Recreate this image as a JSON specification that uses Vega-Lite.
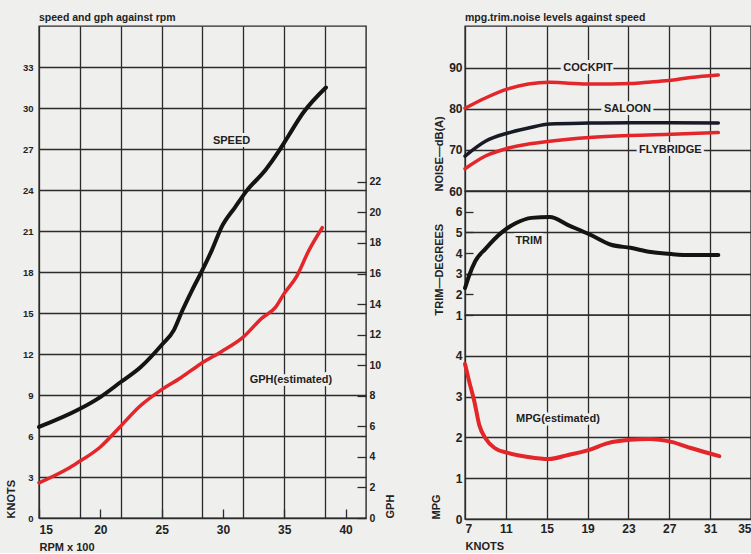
{
  "$schema": "https://vega.github.io/schema/vega-lite/v6.json",
  "background": "#efefed",
  "padding": {"left": 4, "top": 11, "right": 0, "bottom": 0},
  "config": {
    "view": {"stroke": "#2b2b2b", "strokeWidth": 1.4},
    "font": "Liberation Sans",
    "axis": {
      "domain": false,
      "gridColor": "#2b2b2b",
      "gridWidth": 1.3,
      "gridOpacity": 1,
      "tickColor": "#2b2b2b",
      "tickWidth": 1.3,
      "labelColor": "#222222",
      "titleColor": "#222222",
      "labelFont": "Liberation Sans",
      "titleFont": "Liberation Sans",
      "labelFontWeight": "bold",
      "titleFontWeight": "bold",
      "labelOverlap": false,
      "tickCount": 30
    },
    "title": {
      "font": "Liberation Sans",
      "fontWeight": "bold",
      "fontSize": 10.5,
      "color": "#222222",
      "anchor": "start",
      "frame": "group",
      "offset": 3
    }
  },
  "datasets": {
    "speed": [
      {"rpm": 15, "knots": 6.66},
      {"rpm": 18.3, "knots": 7.97},
      {"rpm": 20, "knots": 8.85},
      {"rpm": 21.67, "knots": 9.95},
      {"rpm": 23.3, "knots": 11.05},
      {"rpm": 25, "knots": 12.66},
      {"rpm": 26, "knots": 13.75},
      {"rpm": 26.7, "knots": 15.2},
      {"rpm": 27.5, "knots": 16.7},
      {"rpm": 28.3, "knots": 18.1},
      {"rpm": 29.1, "knots": 19.6},
      {"rpm": 29.9, "knots": 21.3},
      {"rpm": 31, "knots": 22.75},
      {"rpm": 31.9, "knots": 23.9},
      {"rpm": 33.5, "knots": 25.5},
      {"rpm": 34.6, "knots": 26.9},
      {"rpm": 35.3, "knots": 27.9},
      {"rpm": 36.5, "knots": 29.6},
      {"rpm": 38.4, "knots": 31.5}
    ],
    "gph": [
      {"rpm": 15, "gph": 2.3},
      {"rpm": 17.3, "gph": 3.2},
      {"rpm": 18.1, "gph": 3.6},
      {"rpm": 20, "gph": 4.65},
      {"rpm": 21.6, "gph": 5.96},
      {"rpm": 23.2, "gph": 7.3},
      {"rpm": 25, "gph": 8.4},
      {"rpm": 26.6, "gph": 9.2},
      {"rpm": 28.2, "gph": 10.1},
      {"rpm": 29.9, "gph": 10.9},
      {"rpm": 31.6, "gph": 11.8},
      {"rpm": 33.2, "gph": 13.1},
      {"rpm": 34.3, "gph": 13.8},
      {"rpm": 35, "gph": 14.7},
      {"rpm": 36, "gph": 15.8},
      {"rpm": 37, "gph": 17.5},
      {"rpm": 38.1, "gph": 19.0}
    ],
    "leftLabels": [
      {"rpm": 30.7, "knots": 27.6, "label": "SPEED"},
      {"rpm": 35.55, "knots": 10.1, "label": "GPH(estimated)"}
    ],
    "noise": [
      {"series": "COCKPIT", "knots": 7, "db": 80.1},
      {"series": "COCKPIT", "knots": 9, "db": 82.6},
      {"series": "COCKPIT", "knots": 11.2, "db": 84.8},
      {"series": "COCKPIT", "knots": 13.2, "db": 86.0},
      {"series": "COCKPIT", "knots": 15.3, "db": 86.4},
      {"series": "COCKPIT", "knots": 17.1, "db": 86.2},
      {"series": "COCKPIT", "knots": 19.2, "db": 86.0},
      {"series": "COCKPIT", "knots": 21.3, "db": 86.0},
      {"series": "COCKPIT", "knots": 23.2, "db": 86.1},
      {"series": "COCKPIT", "knots": 25.2, "db": 86.5},
      {"series": "COCKPIT", "knots": 27.2, "db": 86.9},
      {"series": "COCKPIT", "knots": 29.1, "db": 87.6},
      {"series": "COCKPIT", "knots": 31.8, "db": 88.2},
      {"series": "SALOON", "knots": 7, "db": 68.5},
      {"series": "SALOON", "knots": 9, "db": 72.1},
      {"series": "SALOON", "knots": 11.2, "db": 74.1},
      {"series": "SALOON", "knots": 13.2, "db": 75.3},
      {"series": "SALOON", "knots": 15.3, "db": 76.3},
      {"series": "SALOON", "knots": 19.2, "db": 76.5},
      {"series": "SALOON", "knots": 23.2, "db": 76.6},
      {"series": "SALOON", "knots": 27.2, "db": 76.6},
      {"series": "SALOON", "knots": 31.8, "db": 76.5},
      {"series": "FLYBRIDGE", "knots": 7, "db": 65.4},
      {"series": "FLYBRIDGE", "knots": 9, "db": 68.5},
      {"series": "FLYBRIDGE", "knots": 11.2, "db": 70.4},
      {"series": "FLYBRIDGE", "knots": 13.2, "db": 71.4},
      {"series": "FLYBRIDGE", "knots": 15.3, "db": 72.1},
      {"series": "FLYBRIDGE", "knots": 19.2, "db": 73.0},
      {"series": "FLYBRIDGE", "knots": 23.2, "db": 73.5},
      {"series": "FLYBRIDGE", "knots": 27.2, "db": 73.8},
      {"series": "FLYBRIDGE", "knots": 31.8, "db": 74.2}
    ],
    "noiseLabels": [
      {"knots": 19.05, "db": 90, "label": "COCKPIT"},
      {"knots": 22.9, "db": 80, "label": "SALOON"},
      {"knots": 27.1, "db": 70, "label": "FLYBRIDGE"}
    ],
    "trim": [
      {"knots": 7, "trim": 2.3},
      {"knots": 7.4, "trim": 2.9},
      {"knots": 8, "trim": 3.6},
      {"knots": 9, "trim": 4.2},
      {"knots": 10.6, "trim": 5.0},
      {"knots": 12, "trim": 5.45},
      {"knots": 13.5, "trim": 5.7},
      {"knots": 15.3, "trim": 5.74},
      {"knots": 17.1, "trim": 5.35},
      {"knots": 19.2, "trim": 4.9},
      {"knots": 21.3, "trim": 4.4},
      {"knots": 23.2, "trim": 4.25},
      {"knots": 25.2, "trim": 4.05},
      {"knots": 27.2, "trim": 3.95},
      {"knots": 29.1, "trim": 3.9},
      {"knots": 31.8, "trim": 3.9}
    ],
    "trimLabels": [
      {"knots": 13.25, "trim": 4.58, "label": "TRIM"}
    ],
    "mpg": [
      {"knots": 7, "mpg": 3.8},
      {"knots": 7.4, "mpg": 3.38},
      {"knots": 7.9, "mpg": 2.9},
      {"knots": 8.4, "mpg": 2.3},
      {"knots": 9, "mpg": 1.98},
      {"knots": 9.9, "mpg": 1.74},
      {"knots": 11.2, "mpg": 1.62},
      {"knots": 13.2, "mpg": 1.52},
      {"knots": 15.2, "mpg": 1.47},
      {"knots": 17.1, "mpg": 1.57},
      {"knots": 19.1, "mpg": 1.69},
      {"knots": 21, "mpg": 1.86},
      {"knots": 23.2, "mpg": 1.94},
      {"knots": 25, "mpg": 1.96},
      {"knots": 27.2, "mpg": 1.89},
      {"knots": 29.1, "mpg": 1.74},
      {"knots": 31.9, "mpg": 1.54}
    ],
    "mpgLabels": [
      {"knots": 16.1, "mpg": 2.45, "label": "MPG(estimated)"}
    ]
  },
  "spacing": 32,
  "hconcat": [
    {
      "title": {"text": "speed and gph against rpm"},
      "width": 327,
      "height": 492,
      "layer": [
        {
          "data": {"name": "speed"},
          "mark": {"type": "line", "interpolate": "monotone", "color": "#141414", "strokeWidth": 4, "strokeCap": "round"},
          "encoding": {
            "x": {
              "field": "rpm", "type": "quantitative",
              "scale": {"domain": [15, 41.667], "nice": false, "zero": false},
              "axis": {
                "orient": "bottom",
                "values": [15, 18.333, 21.667, 25, 28.333, 31.667, 35, 38.333],
                "tickCount": 30,
                "grid": true,
                "labels": false,
                "ticks": false,
                "title": null
              }
            },
            "y": {
              "field": "knots", "type": "quantitative",
              "scale": {"domain": [0, 36], "nice": false, "zero": false},
              "axis": {
                "orient": "left",
                "values": [0, 3, 6, 9, 12, 15, 18, 21, 24, 27, 30, 33],
                "tickCount": 30,
                "format": "d",
                "grid": true,
                "ticks": false,
                "labelPadding": 6,
                "labelFontSize": 9.5,
                "title": "KNOTS",
                "titleAnchor": "start",
                "titleFontSize": 11,
                "titlePadding": 6
              }
            }
          }
        },
        {
          "data": {"name": "gph"},
          "mark": {"type": "line", "interpolate": "monotone", "color": "#e3262a", "strokeWidth": 3.5, "strokeCap": "round"},
          "encoding": {
            "x": {
              "field": "rpm", "type": "quantitative",
              "scale": {"domain": [15, 41.667], "nice": false, "zero": false},
              "axis": {
                "orient": "bottom",
                "values": [15, 20, 25, 30, 35, 40],
                "tickCount": 30,
                "format": "d",
                "grid": false,
                "tickSize": -9,
                "labelPadding": 15,
                "labelFontSize": 12,
                "title": "RPM x 100",
                "titleAnchor": "start",
                "titleAlign": "left",
                "titleFontSize": 11,
                "titlePadding": 6
              }
            },
            "y": {
              "field": "gph", "type": "quantitative",
              "scale": {"domain": [0, 32.2], "nice": false, "zero": false},
              "axis": {
                "orient": "right",
                "values": [0, 2, 4, 6, 8, 10, 12, 14, 16, 18, 20, 22],
                "tickCount": 30,
                "format": "d",
                "grid": false,
                "tickSize": -9,
                "labelPadding": 12,
                "labelFontSize": 10.5,
                "title": "GPH",
                "titleAngle": 270,
                "titleBaseline": "top",
                "titleAnchor": "start",
                "titleFontSize": 11,
                "titlePadding": 4
              }
            }
          }
        },
        {
          "data": {"name": "leftLabels"},
          "mark": {"type": "text", "fontWeight": "bold", "fontSize": 11, "fill": "#efefed", "stroke": "#efefed", "strokeWidth": 6, "strokeJoin": "round"},
          "encoding": {
            "x": {"field": "rpm", "type": "quantitative", "scale": {"domain": [15, 41.667], "nice": false, "zero": false}, "axis": null},
            "y": {"field": "knots", "type": "quantitative", "scale": {"domain": [0, 36], "nice": false, "zero": false}, "axis": null},
            "text": {"field": "label"}
          }
        },
        {
          "data": {"name": "leftLabels"},
          "mark": {"type": "text", "fontWeight": "bold", "fontSize": 11, "fill": "#1e1e1e"},
          "encoding": {
            "x": {"field": "rpm", "type": "quantitative", "scale": {"domain": [15, 41.667], "nice": false, "zero": false}, "axis": null},
            "y": {"field": "knots", "type": "quantitative", "scale": {"domain": [0, 36], "nice": false, "zero": false}, "axis": null},
            "text": {"field": "label"}
          }
        }
      ],
      "resolve": {"scale": {"y": "independent"}, "axis": {"x": "independent", "y": "independent"}}
    },
    {
      "spacing": 0,
      "bounds": "flush",
      "vconcat": [
        {
          "title": {"text": "mpg.trim.noise levels against speed"},
          "width": 286,
          "height": 165,
          "layer": [
            {
              "data": {"name": "noise"},
              "mark": {"type": "line", "interpolate": "monotone", "strokeWidth": 3.5, "strokeCap": "round"},
              "encoding": {
                "x": {
                  "field": "knots", "type": "quantitative",
                  "scale": {"domain": [7, 35], "nice": false, "zero": false},
                  "axis": {"values": [7, 11, 15, 19, 23, 27, 31, 35], "tickCount": 30, "labels": false, "ticks": false, "title": null, "grid": true}
                },
                "y": {
                  "field": "db", "type": "quantitative",
                  "scale": {"domain": [60, 100.1], "nice": false, "zero": false},
                  "axis": {
                    "values": [60, 70, 80, 90],
                    "tickCount": 30,
                    "format": "d",
                    "ticks": false,
                    "labelPadding": 3,
                    "labelFontSize": 12,
                    "title": "NOISE—dB(A)",
                    "titleAnchor": "start",
                    "titleFontSize": 11,
                    "titlePadding": 4
                  }
                },
                "color": {
                  "field": "series", "type": "nominal",
                  "scale": {"domain": ["COCKPIT", "SALOON", "FLYBRIDGE"], "range": ["#e3262a", "#181a26", "#e3262a"]},
                  "legend": null
                }
              }
            },
            {
              "data": {"name": "noiseLabels"},
              "mark": {"type": "text", "fontWeight": "bold", "fontSize": 11, "fill": "#efefed", "stroke": "#efefed", "strokeWidth": 6, "strokeJoin": "round"},
              "encoding": {
                "x": {"field": "knots", "type": "quantitative"},
                "y": {"field": "db", "type": "quantitative"},
                "text": {"field": "label"}
              }
            },
            {
              "data": {"name": "noiseLabels"},
              "mark": {"type": "text", "fontWeight": "bold", "fontSize": 11, "fill": "#1e1e1e"},
              "encoding": {
                "x": {"field": "knots", "type": "quantitative"},
                "y": {"field": "db", "type": "quantitative"},
                "text": {"field": "label"}
              }
            }
          ]
        },
        {
          "width": 286,
          "height": 124,
          "layer": [
            {
              "data": {"name": "trim"},
              "mark": {"type": "line", "interpolate": "monotone", "color": "#141414", "strokeWidth": 4, "strokeCap": "round"},
              "encoding": {
                "x": {
                  "field": "knots", "type": "quantitative",
                  "scale": {"domain": [7, 35], "nice": false, "zero": false},
                  "axis": {"values": [7, 11, 15, 19, 23, 27, 31, 35], "tickCount": 30, "labels": false, "ticks": false, "title": null, "grid": true}
                },
                "y": {
                  "field": "trim", "type": "quantitative",
                  "scale": {"domain": [1, 7], "nice": false, "zero": false},
                  "axis": {
                    "values": [1, 2, 3, 4, 5, 6],
                    "tickCount": 30,
                    "format": "d",
                    "labelOverlap": false,
                    "gridOpacity": {"condition": {"test": "datum.value == 3 || datum.value == 5", "value": 1}, "value": 0},
                    "tickSize": -8,
                    "labelPadding": 11,
                    "labelFontSize": 12,
                    "title": "TRIM—DEGREES",
                    "titleAnchor": "start",
                    "titleFontSize": 11,
                    "titlePadding": 11
                  }
                }
              }
            },
            {
              "data": {"name": "trimLabels"},
              "mark": {"type": "text", "fontWeight": "bold", "fontSize": 11, "fill": "#efefed", "stroke": "#efefed", "strokeWidth": 6, "strokeJoin": "round"},
              "encoding": {
                "x": {"field": "knots", "type": "quantitative"},
                "y": {"field": "trim", "type": "quantitative"},
                "text": {"field": "label"}
              }
            },
            {
              "data": {"name": "trimLabels"},
              "mark": {"type": "text", "fontWeight": "bold", "fontSize": 11, "fill": "#1e1e1e"},
              "encoding": {
                "x": {"field": "knots", "type": "quantitative"},
                "y": {"field": "trim", "type": "quantitative"},
                "text": {"field": "label"}
              }
            }
          ]
        },
        {
          "width": 286,
          "height": 204,
          "layer": [
            {
              "data": {"name": "mpg"},
              "mark": {"type": "line", "interpolate": "monotone", "color": "#e3262a", "strokeWidth": 4, "strokeCap": "round"},
              "encoding": {
                "x": {
                  "field": "knots", "type": "quantitative",
                  "scale": {"domain": [7, 35], "nice": false, "zero": false},
                  "axis": {
                    "values": [7, 11, 15, 19, 23, 27, 31, 35],
                    "tickCount": 30,
                    "format": "d",
                    "grid": true,
                    "ticks": false,
                    "labelPadding": 4,
                    "labelFontSize": 12,
                    "labelFlush": true,
                    "title": "KNOTS",
                    "titleAnchor": "start",
                    "titleAlign": "left",
                    "titleFontSize": 11,
                    "titlePadding": 6
                  }
                },
                "y": {
                  "field": "mpg", "type": "quantitative",
                  "scale": {"domain": [0, 5], "nice": false, "zero": false},
                  "axis": {
                    "values": [0, 1, 2, 3, 4],
                    "tickCount": 30,
                    "format": "d",
                    "ticks": false,
                    "labelPadding": 3,
                    "labelFontSize": 12,
                    "title": "MPG",
                    "titleAnchor": "start",
                    "titleFontSize": 11,
                    "titlePadding": 14
                  }
                }
              }
            },
            {
              "data": {"name": "mpgLabels"},
              "mark": {"type": "text", "fontWeight": "bold", "fontSize": 11, "fill": "#efefed", "stroke": "#efefed", "strokeWidth": 6, "strokeJoin": "round"},
              "encoding": {
                "x": {"field": "knots", "type": "quantitative"},
                "y": {"field": "mpg", "type": "quantitative"},
                "text": {"field": "label"}
              }
            },
            {
              "data": {"name": "mpgLabels"},
              "mark": {"type": "text", "fontWeight": "bold", "fontSize": 11, "fill": "#1e1e1e"},
              "encoding": {
                "x": {"field": "knots", "type": "quantitative"},
                "y": {"field": "mpg", "type": "quantitative"},
                "text": {"field": "label"}
              }
            }
          ]
        }
      ]
    }
  ]
}
